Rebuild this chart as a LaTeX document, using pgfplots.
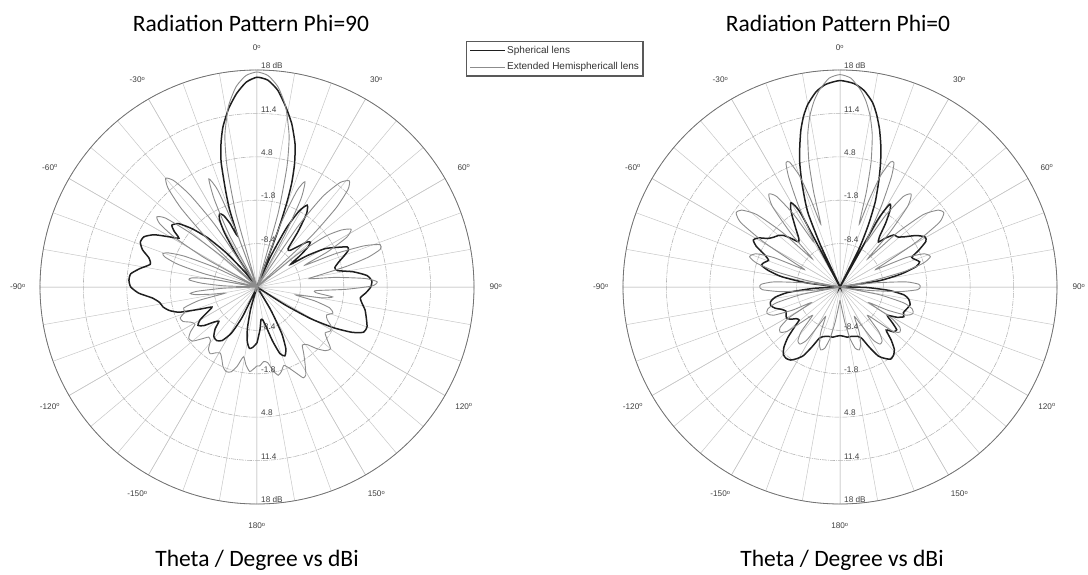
\documentclass[border=0pt]{standalone}
\usepackage{fontspec}
\setmainfont{Liberation Sans}
\newfontfamily\calibri{Carlito}
\usepackage{pgfplots}
\usepackage{pgfplotstable}
\pgfplotsset{compat=1.18}
\usepgfplotslibrary{polar}

% Gain in dBi against theta (degrees, clockwise from boresight)
% Phi = 90 cut, spherical lens
\pgfplotstableread{
t g
-180 -6.5
-176 -5.8
-173 -5.6
-170 -6.5
-167 -8.5
-164 -11.5
-161 -15
-157 -15
-154 -10
-151 -7
-147 -5.3
-143 -4.8
-139 -5.0
-135 -6.0
-132 -7.2
-129 -6.5
-126 -5.0
-123 -4.3
-120 -5.0
-117 -6.5
-114 -7.5
-111 -5.5
-108 -2.6
-105 -1.2
-102 -0.4
-99 0.0
-96 1.0
-93 3.0
-90 4.2
-87 4.5
-84 4.3
-81 3.0
-78 1.6
-75 2.0
-72 3.3
-69 4.0
-66 3.8
-63 2.5
-60 0.2
-58 -1.0
-56 0.2
-54 1.0
-51 0.3
-48 -1.8
-45 -4.5
-42 -8
-39 -12
-36 -15
-33 -10
-31 -5.5
-29 -3.2
-27 -2.5
-25 -3.0
-23 -4.5
-21 -6.6
-19.5 -2.5
-18 0.5
-16 4.8
-14 7.6
-12 9.9
-9 12.5
-6 14.6
-3 16.2
0 16.9
3 16.5
6 15.1
9 12.8
12 10.4
15 7.4
17 4.5
18.5 1.6
19.5 -1.5
20.5 -6
21.5 -15
24 -10
26.5 -5
29 -1.8
31.5 -0.4
34 -1.5
36.5 -4.5
39 -7.5
42 -7.5
45 -6.4
48 -4.8
50 -4.4
52 -5.2
54 -7
56 -8.8
58 -6
60.5 -3.2
63 -1.8
66 0.0
68 0.0
70.5 -1.0
73 -2.0
76 -2.8
78.5 -2.5
81 -0.2
84 1.8
87 2.5
90 2.3
93 1.6
96 0.8
99 1.2
102 1.8
106 2.3
110 2.8
113 2.6
115.5 1.0
118 -1.8
120.5 -5.5
122.5 -10
124 -15
146 -15
149 -11
152 -7
155 -4.6
158 -3.7
161 -4.3
164 -6.5
167 -8.8
170 -9.9
173 -10.0
176 -8.5
180 -6.5
}\sphA

% Phi = 90 cut, extended hemispherical lens
\pgfplotstableread{
t g
-180 -3.0
-177 -2.4
-175 -2.1
-172 -3.0
-169 -4.2
-166 -2.6
-163 -1.5
-160 -1.3
-157 -1.8
-154 -2.8
-151 -3.5
-148 -3.2
-145 -2.6
-142 -3.0
-139 -4.2
-136 -4.4
-133 -3.4
-130 -2.2
-127 -2.0
-124 -2.8
-121 -4.0
-118 -3.6
-115 -2.6
-112 -2.4
-109 -3.4
-106 -3.4
-103 -6
-101 -10
-99 -8
-97 -5.5
-95.5 -4.8
-94 -6
-92 -10
-90 -15
-88 -10
-86 -6.5
-84 -4.6
-82 -5.0
-80 -8
-78 -15
-76 -7
-74 -2.5
-72 -0.3
-70.5 0.2
-69 -0.5
-67 -3
-65 -8
-63 -15
-61 -6
-59 -0.5
-57 2.6
-55 3.6
-53 2.4
-51 -2
-49 -8
-47.5 -15
-46 -5
-44 1.5
-42 5.2
-40 6.6
-38 5.5
-36 2.2
-34 -4
-32 -15
-29.5 -15
-28 -6
-26 -0.2
-24 3.0
-22 0.8
-20.5 -6
-19 -15
-17.5 -15
-16 -3.5
-14 3.8
-12 8.5
-9 12.8
-6 15.6
-3 17.2
0 17.7
3 17.2
6 15.6
9 12.8
12 8.5
14 3.8
16 -3.5
17.5 -15
19 -15
20.5 -5
22.5 0.8
24.5 2.6
26.5 0
28 -6
29.5 -15
32 -15
34 -4
36 2
38.5 5.3
41 6.4
43 5.3
45 2
47 -4
49 -15
51 -7
53.5 -2
56 0.5
58.5 1.8
61 0.6
63.5 -3
65.5 -7
67 -2
69 2.5
71 4.8
73 4.6
75 2.5
77 -1
79 -5
81 -7
83 -3
85.5 1.5
87.5 3.3
89.5 2.5
91.5 -1.5
93.5 -6
95.5 -6
97.5 -3.4
99.5 -5
101.5 -9
103.5 -6
106 -3.5
109 -2.8
112 -3.6
115 -3.2
118 -2.2
121 -2.0
124 -2.5
127 -1.6
130 -0.4
133 -0.8
136 -2.0
139 -3.4
142 -3.8
145 -2.6
148 -1.2
151 0.3
153 0.5
155 -0.4
158 -1.6
161 -2.4
164 -1.6
166.5 -1.2
169 -2.0
172 -3.4
175 -3.6
178 -3.0
180 -3.0
}\extA

% Phi = 0 cut, spherical lens
\pgfplotstableread{
t g
-180 -7.6
-176 -7.5
-172 -7.3
-168 -7.3
-164 -7.2
-161 -7.0
-158 -6.6
-155 -5.0
-152 -3.2
-149 -2.3
-146 -1.6
-143 -1.4
-140 -1.6
-137 -2.5
-134 -4.0
-131 -6.0
-129 -7.0
-126 -6.8
-123 -6.0
-120 -5.6
-117 -5.8
-114 -6.0
-111 -5.5
-108 -4.6
-105 -4.1
-102 -4.2
-99 -5.0
-96 -7.0
-93 -11
-90 -15
-86 -15
-83 -10
-80 -6
-77 -3.8
-74.5 -2.6
-72 -2.9
-69.5 -3.4
-67 -2.6
-64 -0.8
-61.5 0.0
-59 -0.5
-56 -1.8
-53 -2.4
-50 -2.8
-47.5 -3.4
-45 -4.6
-42.5 -5.7
-40 -5.2
-37 -3.8
-34 -2.0
-32 -0.8
-30 -0.2
-28 -2.5
-26.5 -15
-25 -8
-23.5 -3
-22 -0.8
-20 2.0
-18 4.8
-16 7.2
-14 9.6
-12 11.6
-10 13.2
-7 14.9
-4 15.9
0 16.4
4 16.0
7 15.1
10 13.5
12 11.8
14 9.8
16 7.5
18 5.0
20 2.3
22.5 -1.0
24.5 -4.5
26.5 -8.5
27.8 -15
29.3 -3.5
31 -0.3
33 -1.0
35.5 -3.0
38 -5.2
40.5 -6.0
43 -4.8
46 -3.6
49 -3.4
52 -2.6
56 -1.0
59.5 0.0
62 -0.2
65 -1.8
67.5 -3.2
70 -2.8
72.5 -2.3
75 -3.0
78 -5.5
81 -9
84 -15
88 -15
91 -11
94 -7.5
97 -5.2
100 -4.4
104 -4.0
108 -4.3
112 -4.6
115 -4.3
118 -5.2
121 -6.6
124 -5.5
127 -4.2
130 -4.4
133 -5.4
136 -3.8
139 -2.4
142 -1.8
145 -1.6
148 -2.2
151 -3.0
154 -4.8
157 -6.5
160 -7.0
164 -7.2
168 -7.3
172 -7.3
176 -7.5
180 -7.6
}\sphB

% Phi = 0 cut, extended hemispherical lens
\pgfplotstableread{
t g
-180 -13
-176 -12
-172 -9.5
-169 -7.0
-166 -5.4
-163 -5.0
-160 -5.8
-157 -7.5
-154 -10
-151 -8.5
-148 -5.5
-145 -4.4
-142 -4.6
-139 -6
-136 -9
-133 -7.5
-130 -4.5
-127 -3.6
-124 -4.0
-121 -6
-118.5 -10
-116 -7
-113 -4.0
-110 -3.2
-107 -3.5
-104 -5
-101 -9
-99 -15
-97 -11
-94.5 -6
-92 -3.2
-90 -2.8
-88 -3.0
-85.5 -5
-83 -10
-81 -15
-79 -10
-76.5 -5
-74 -1.8
-71.5 -0.5
-68.5 -1.2
-66 -4
-64 -9
-62 -7
-59.5 -1.5
-57 3.0
-54.5 4.4
-52 4.0
-49 1.8
-46.5 -3
-44.5 -9
-42.5 -4
-40 1.0
-37.5 2.8
-35 1.8
-32.5 -2
-30.5 -7
-29 -6
-27 -1.0
-25 3.5
-23.5 5.6
-22 5.5
-20 3.0
-18.5 -1.0
-17 -5.0
-15.5 0.0
-14 4.5
-12 8.6
-10 11.4
-8 13.5
-6 15.1
-3 16.8
0 17.3
3 16.8
6 15.1
8 13.5
10 11.4
12 8.6
14 4.5
15.5 0.0
17 -5.0
18.5 -1.0
20 3.0
22 5.5
23.5 5.6
25 3.5
27 -1.0
29 -6
30.5 -7
32.5 -2
35 1.8
37.5 2.8
40 1.0
42.5 -4
44.5 -9
46.5 -3
49 1.8
52 4.0
54.5 4.4
57 3.0
59.5 -1.5
62 -7
64 -9
66 -4
68.5 -1.2
71.5 -0.5
74 -1.8
76.5 -5
79 -10
81 -15
83 -10
85.5 -5
88 -3.0
90 -2.8
92 -3.2
94.5 -6
97 -11
99 -15
101 -9
104 -5
107 -3.5
110 -3.2
113 -4.0
116 -7
118.5 -10
121 -6
124 -4.0
127 -3.6
130 -4.5
133 -7.5
136 -9
139 -6
142 -4.6
145 -4.4
148 -5.5
151 -8.5
154 -10
157 -7.5
160 -5.8
163 -5.0
166 -5.4
169 -7.0
172 -9.5
176 -12
180 -13
}\extB

\pgfplotsset{
  radpat/.style={
    width=434pt, height=434pt, scale only axis, anchor=center,
    xmin=0, xmax=360, ymin=0, ymax=33,
    xtick={0,30,...,330}, minor xtick={0,10,...,350},
    ytick={6.6,13.2,19.8,26.4,33},
    xticklabels={}, yticklabels={},
    major tick length=0pt, minor tick length=0pt,
    grid=both,
    major x grid style={draw=black!22, line width=0.5pt},
    minor x grid style={draw=black!22, line width=0.5pt},
    major y grid style={draw=black!30, line width=0.55pt,
      dash pattern=on 5pt off 1pt on 1pt off 1pt},
    separate axis lines,
    x axis line style={draw=black!55, line width=0.8pt},
    y axis line style={draw=none},
    clip=false,
  },
  spher/.style={draw=black!88, line width=1.5pt, smooth, tension=0.35},
  exthemi/.style={draw=black!45, line width=0.9pt, smooth, tension=0.35},
}
\tikzset{
  anglab/.style={font=\fontsize{8.2}{9}\selectfont, text=black!75, inner sep=0pt},
  radlab/.style={font=\fontsize{8.2}{9}\selectfont, text=black!75,
    anchor=south west, inner sep=1pt, xshift=3pt},
}

% angle labels (0 deg at the top, clockwise) and level labels on both half-spokes
\newcommand\anglelabels{%
  \node[anglab] at (axis cs:90,36.35) {0\textsuperscript{o}};
  \node[anglab] at (axis cs:60,36.35) {30\textsuperscript{o}};
  \node[anglab] at (axis cs:30,36.35) {60\textsuperscript{o}};
  \node[anglab] at (axis cs:0,36.35) {90\textsuperscript{o}};
  \node[anglab] at (axis cs:-30,36.35) {120\textsuperscript{o}};
  \node[anglab] at (axis cs:-60,36.35) {150\textsuperscript{o}};
  \node[anglab] at (axis cs:-90,36.35) {180\textsuperscript{o}};
  \node[anglab] at (axis cs:240,36.35) {-150\textsuperscript{o}};
  \node[anglab] at (axis cs:210,36.35) {-120\textsuperscript{o}};
  \node[anglab] at (axis cs:180,36.35) {-90\textsuperscript{o}};
  \node[anglab] at (axis cs:150,36.35) {-60\textsuperscript{o}};
  \node[anglab] at (axis cs:120,36.35) {-30\textsuperscript{o}};
  \node[radlab] at (axis cs:90,6.6) {-8.4};
  \node[radlab] at (axis cs:90,13.2) {-1.8};
  \node[radlab] at (axis cs:90,19.8) {4.8};
  \node[radlab] at (axis cs:90,26.4) {11.4};
  \node[radlab] at (axis cs:90,33) {18 dB};
  \node[radlab] at (axis cs:270,6.6) {-8.4};
  \node[radlab] at (axis cs:270,13.2) {-1.8};
  \node[radlab] at (axis cs:270,19.8) {4.8};
  \node[radlab] at (axis cs:270,26.4) {11.4};
  \node[radlab] at (axis cs:270,33) {18 dB};
}

\begin{document}
\begin{tikzpicture}
\useasboundingbox (0,0) rectangle (1088pt,574pt);

\begin{polaraxis}[radpat, at={(257pt,287pt)},
  legend style={at={(0.982,1.067)}, anchor=north west,
    draw=black!65, line width=1.1pt, fill=white,
    font=\fontsize{10}{11}\selectfont, text=black!80,
    inner xsep=3pt, inner ysep=3.5pt, row sep=6pt,
    nodes={inner xsep=1pt, inner ysep=1pt}, cells={anchor=west}},
  legend image code/.code={\draw[#1] (0pt,0pt) -- (35pt,0pt);},
]
  \addplot[spher] table[x expr=90-\thisrow{t}, y expr=\thisrow{g}+15] {\sphA};
  \addlegendentry{Spherical lens}
  \addplot[exthemi] table[x expr=90-\thisrow{t}, y expr=\thisrow{g}+15] {\extA};
  \addlegendentry{Extended Hemisphericall lens\hspace{4pt}}
  \anglelabels
\end{polaraxis}

\begin{polaraxis}[radpat, at={(840pt,287pt)}]
  \addplot[spher] table[x expr=90-\thisrow{t}, y expr=\thisrow{g}+15] {\sphB};
  \addplot[exthemi] table[x expr=90-\thisrow{t}, y expr=\thisrow{g}+15] {\extB};
  \anglelabels
\end{polaraxis}

\node[font=\calibri\fontsize{23.5}{28}\selectfont, anchor=base] at (251pt,542pt) {Radiation Pattern Phi=90};
\node[font=\calibri\fontsize{23.5}{28}\selectfont, anchor=base] at (838pt,542pt) {Radiation Pattern Phi=0};
\node[font=\calibri\fontsize{23.5}{28}\selectfont, anchor=base] at (257pt,8pt) {Theta / Degree vs dBi};
\node[font=\calibri\fontsize{23.5}{28}\selectfont, anchor=base] at (842pt,8pt) {Theta / Degree vs dBi};
\end{tikzpicture}
\end{document}
